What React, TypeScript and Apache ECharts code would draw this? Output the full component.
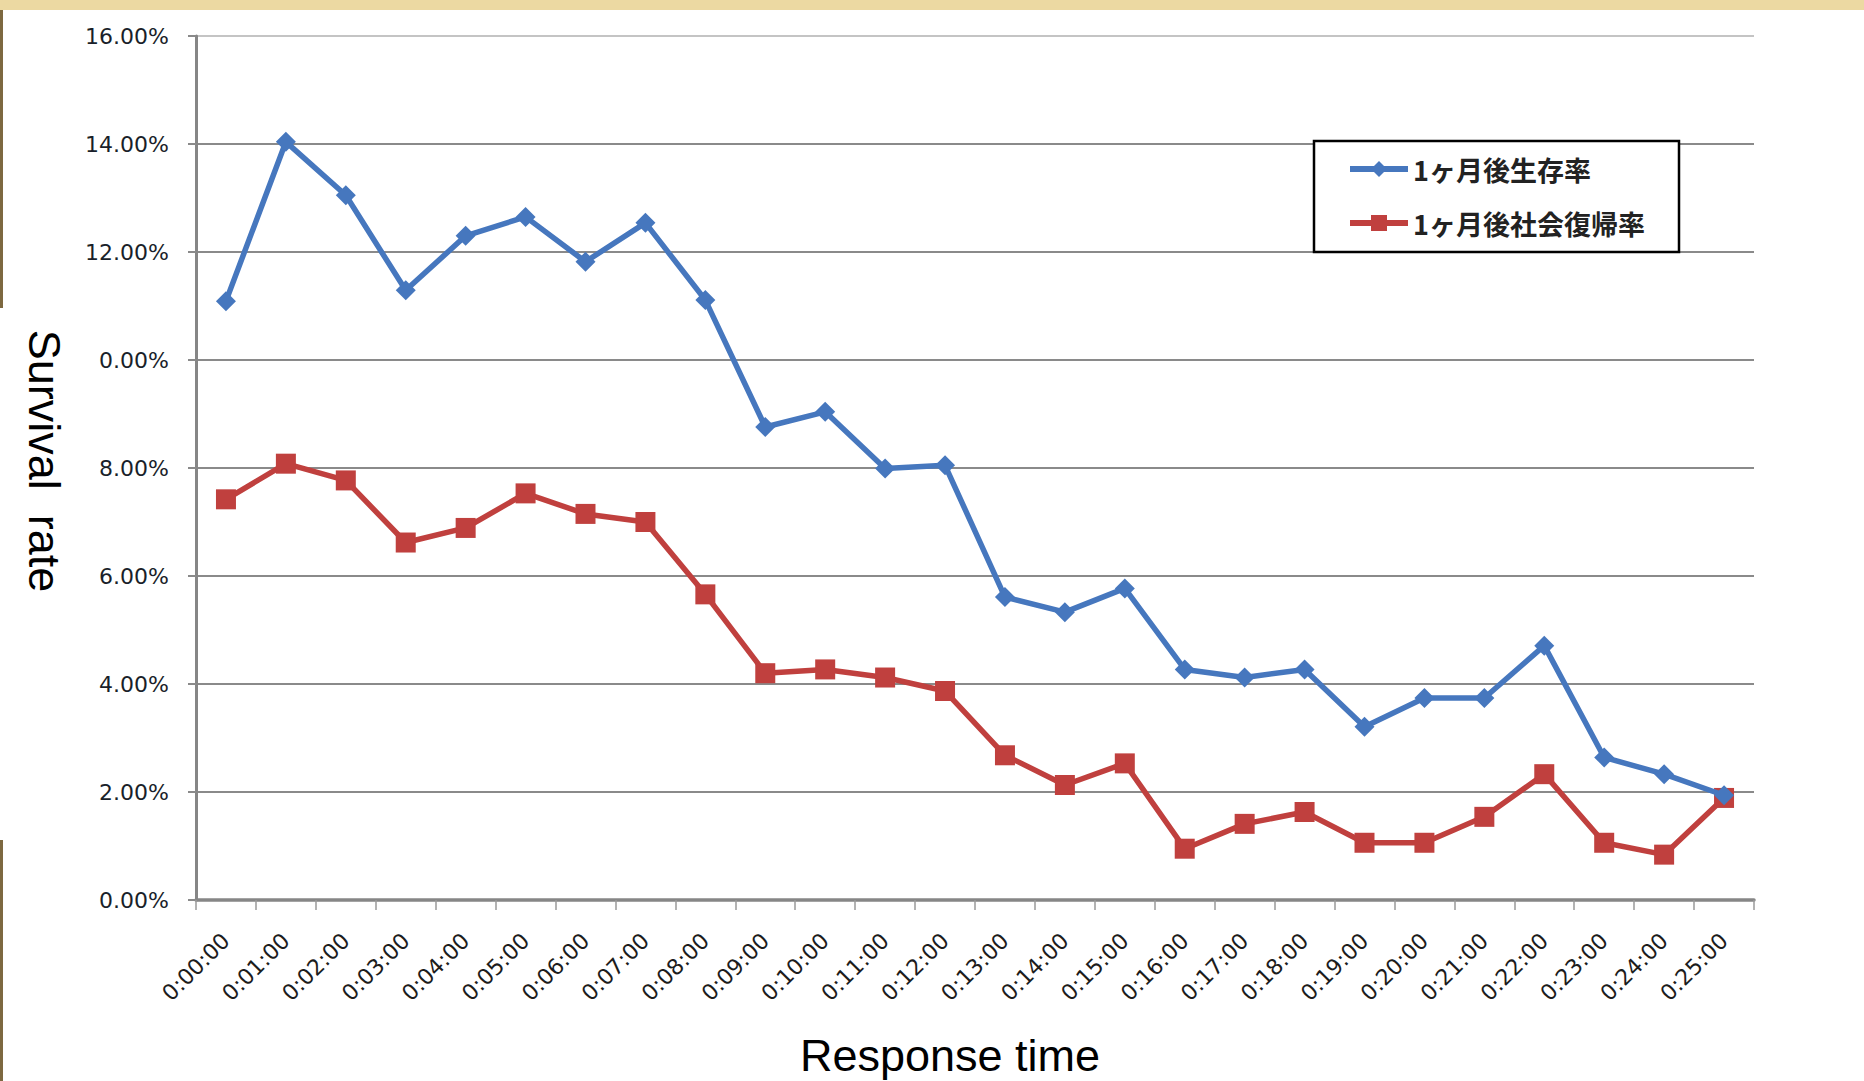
import React, { useEffect, useRef } from "react";
import * as echarts from "echarts";

const categories = [
  "0:00:00", "0:01:00", "0:02:00", "0:03:00", "0:04:00", "0:05:00", "0:06:00",
  "0:07:00", "0:08:00", "0:09:00", "0:10:00", "0:11:00", "0:12:00", "0:13:00",
  "0:14:00", "0:15:00", "0:16:00", "0:17:00", "0:18:00", "0:19:00", "0:20:00",
  "0:21:00", "0:22:00", "0:23:00", "0:24:00", "0:25:00",
];

const survivalName = "1ヶ月後生存率";
const survivalValues = [
  11.09, 14.04, 13.05, 11.29, 12.3, 12.65, 11.82, 12.54, 11.11, 8.76, 9.04, 7.99,
  8.05, 5.61, 5.33, 5.77, 4.27, 4.12, 4.27, 3.21, 3.74, 3.74, 4.71, 2.64, 2.33, 1.94,
];

const returnName = "1ヶ月後社会復帰率";
const returnValues = [
  7.42, 8.08, 7.77, 6.62, 6.89, 7.53, 7.15, 7.0, 5.66, 4.2, 4.27, 4.12, 3.87, 2.68,
  2.13, 2.53, 0.95, 1.41, 1.63, 1.06, 1.06, 1.54, 2.33, 1.06, 0.84, 1.89,
];

const yTickLabels = [
  "0.00%", "2.00%", "4.00%", "6.00%", "8.00%", "0.00%", "12.00%", "14.00%", "16.00%",
];

const yAxisTitle = "Survival  rate";
const xAxisTitle = "Response time";

const BLUE = "#4677BE";
const RED = "#C0403E";

export default function App() {
  const ref = useRef<HTMLDivElement>(null);

  useEffect(() => {
    if (!ref.current) return;
    const chart = echarts.init(ref.current, undefined, { renderer: "svg" });
    const gridColors = ["#8a8a8a", "#8a8a8a", "#8a8a8a", "#8a8a8a", "#8a8a8a", "#8a8a8a", "#8a8a8a", "#8a8a8a", "#c4c4c4"];
    chart.setOption({
      animation: false,
      backgroundColor: "#ffffff",
      grid: { left: 196, right: 110, top: 36, bottom: 181, containLabel: false },
      xAxis: {
        type: "category",
        data: categories,
        boundaryGap: true,
        axisLine: { show: true, lineStyle: { color: "#868686", width: 3.5 } },
        axisTick: { show: true, length: 10, alignWithLabel: false, lineStyle: { color: "#9a9a9a", width: 1.5 } },
        axisLabel: {
          interval: 0,
          rotate: 45,
          margin: 37,
          color: "#1c1c1c",
          fontFamily: "DejaVu Sans",
          fontSize: 22,
        },
        splitLine: { show: false },
      },
      yAxis: {
        type: "value",
        min: 0,
        max: 16,
        interval: 2,
        axisLine: { show: true, lineStyle: { color: "#868686", width: 3 } },
        axisTick: { show: true, length: 8, lineStyle: { color: "#8a8a8a", width: 2 } },
        axisLabel: {
          margin: 27,
          color: "#1a1f2a",
          fontFamily: "DejaVu Sans",
          fontSize: 22,
          fontWeight: 500,
          formatter: (v: number) => yTickLabels[Math.round(v / 2)] ?? "",
        },
        splitLine: { show: true, lineStyle: { color: gridColors, width: 2 } },
      },
      legend: {
        orient: "vertical",
        left: 1347,
        top: 153,
        padding: 0,
        itemWidth: 58,
        itemHeight: 20,
        itemGap: 22,
        lineStyle: { width: 6 },
        textStyle: {
          fontFamily: "Noto Sans CJK JP",
          fontSize: 27,
          fontWeight: "bold",
          color: "#222222",
          lineHeight: 32,
        },
        data: [survivalName, returnName],
      },
      graphic: [
        { type: "rect", z: 0, shape: { x: 0, y: 0, width: 1864, height: 10 }, style: { fill: "#ecd9a2" } },
        { type: "rect", z: 0, shape: { x: 0, y: 10, width: 3, height: 298 }, style: { fill: "#7d6840" } },
        { type: "rect", z: 0, shape: { x: 0, y: 840, width: 3, height: 241 }, style: { fill: "#7d6840" } },
        {
          type: "rect",
          z: 1,
          shape: { x: 1314, y: 141, width: 365, height: 111 },
          style: { fill: "#ffffff", stroke: "#000000", lineWidth: 2.5 },
        },
        {
          type: "text",
          x: 44,
          y: 461,
          rotation: -Math.PI / 2,
          style: {
            text: yAxisTitle,
            fontFamily: "Liberation Sans",
            fontSize: 45,
            fill: "#000000",
            align: "center",
            verticalAlign: "middle",
          },
        },
        {
          type: "text",
          x: 950,
          y: 1055,
          style: {
            text: xAxisTitle,
            fontFamily: "Liberation Sans",
            fontSize: 45,
            fill: "#000000",
            align: "center",
            verticalAlign: "middle",
          },
        },
      ],
      series: [
        {
          name: survivalName,
          type: "line",
          data: survivalValues,
          symbol: "diamond",
          symbolSize: 20,
          lineStyle: { color: BLUE, width: 5.5 },
          itemStyle: { color: BLUE },
          z: 3,
        },
        {
          name: returnName,
          type: "line",
          data: returnValues,
          symbol: "rect",
          symbolSize: 20,
          lineStyle: { color: RED, width: 5.5 },
          itemStyle: { color: RED },
          z: 2,
        },
      ],
    });
    return () => chart.dispose();
  }, []);

  return (
    <div
      ref={ref}
      style={{ position: "absolute", left: 0, top: 0, width: 1864, height: 1081 }}
    />
  );
}
